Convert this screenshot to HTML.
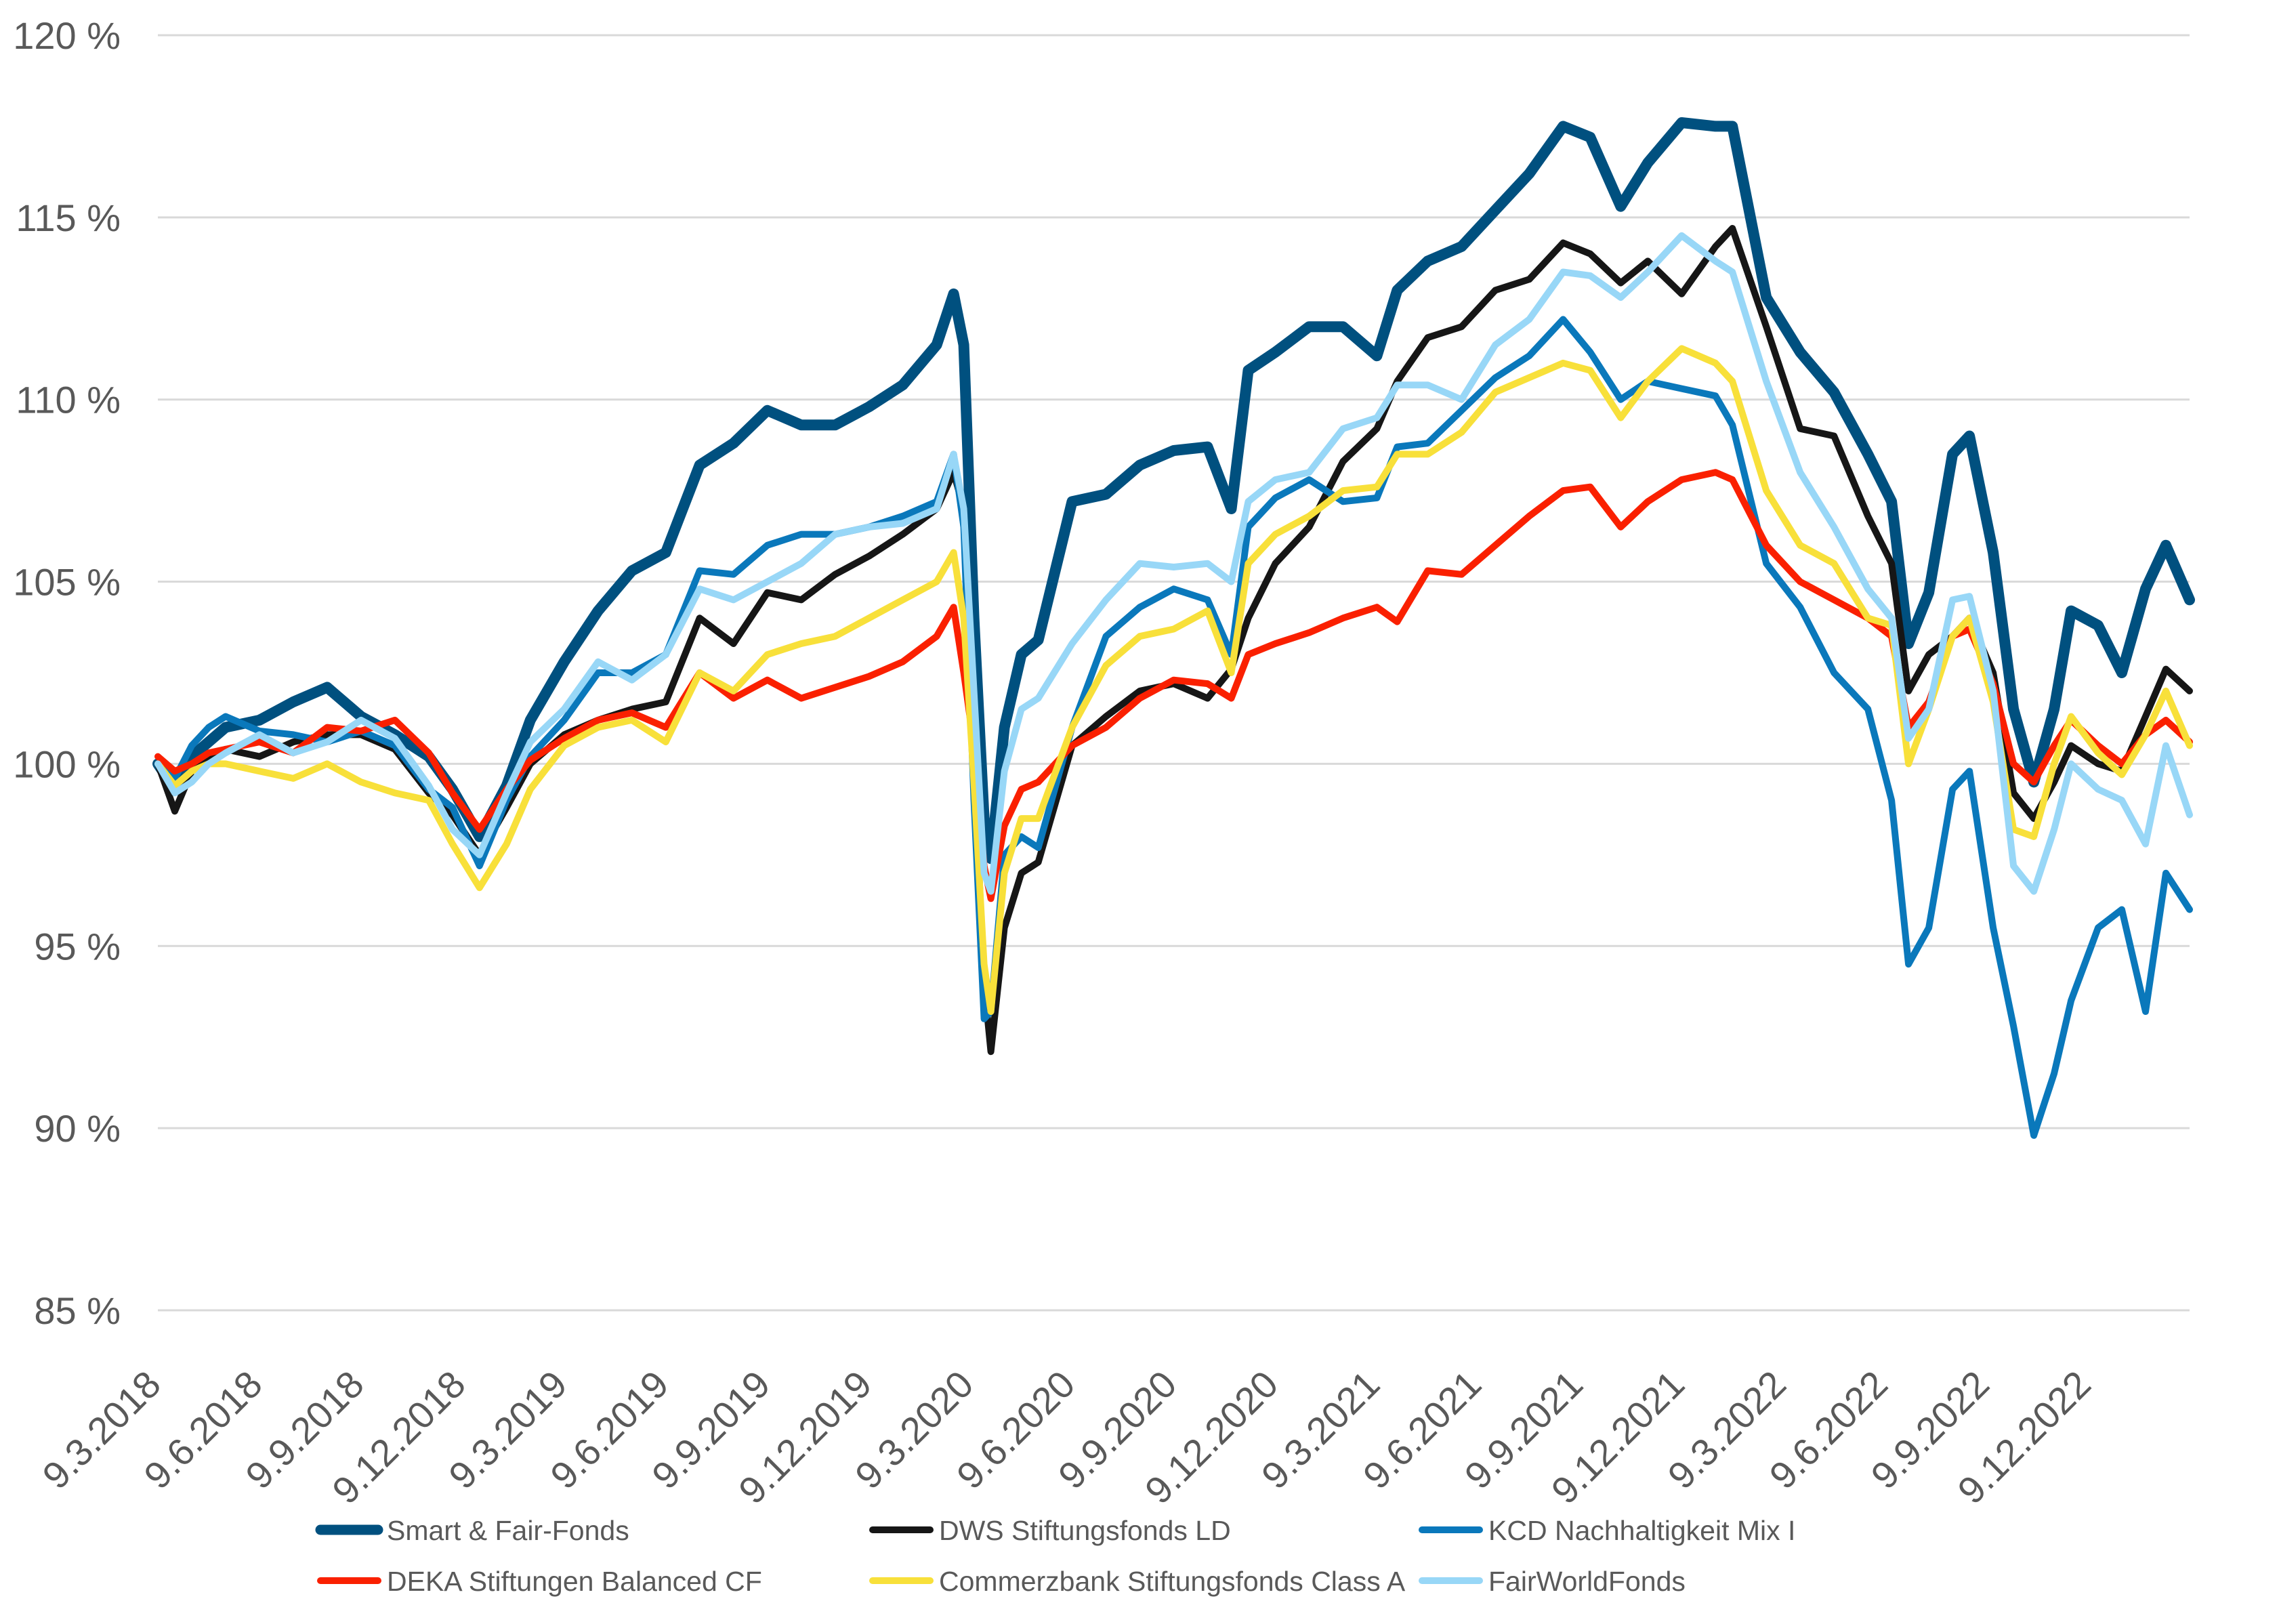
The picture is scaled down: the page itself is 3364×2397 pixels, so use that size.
<!DOCTYPE html>
<html><head><meta charset="utf-8"><style>
html,body{margin:0;padding:0;background:#fff}
svg{display:block}
text{font-family:"Liberation Sans",Arial,sans-serif;fill:#595959}
</style></head><body>
<svg id="chart" width="3364" height="2397" viewBox="0 0 3364 2397" xmlns="http://www.w3.org/2000/svg">
<g id="grid"></g>
<g id="yaxis"></g>
<g id="xaxis"></g>
<g id="series"></g>
<g id="legend"></g>
</svg>
<script>
const monthsSinceStart = [0,0.5,1,1.5,2,3,4,5,6,7,8,8.7,9.5,10.3,11,12,13,14,15,16,17,18,19,20,21,22,23,23.5,23.8,24.1,24.4,24.6,25,25.5,26,27,28,29,30,31,31.7,32.2,33,34,35,36,36.6,37.5,38.5,39.5,40.5,41.5,42.3,43.2,44,45,46,46.5,47.5,48.5,49.5,50.5,51.2,51.7,52.3,53,53.5,54.2,54.8,55.4,56,56.5,57.3,58,58.7,59.3,60];
const smartFair = [100,99.3,100.2,100.6,101,101.2,101.7,102.1,101.3,100.8,100.2,99.3,98,99.4,101.2,102.8,104.2,105.3,105.8,108.2,108.8,109.7,109.3,109.3,109.8,110.4,111.5,112.9,111.5,104,98.5,97.4,101,103,103.4,107.2,107.4,108.2,108.6,108.7,107,110.8,111.3,112,112,111.2,113,113.8,114.2,115.2,116.2,117.5,117.2,115.3,116.5,117.6,117.5,117.5,112.8,111.3,110.2,108.5,107.2,103.3,104.7,108.5,109,105.8,101.5,99.5,101.5,104.2,103.8,102.5,104.8,106,104.5];
const dws = [100,98.7,99.8,100.2,100.4,100.2,100.6,100.8,100.8,100.4,99.2,98.6,97.5,98.8,100,100.8,101.2,101.5,101.7,104,103.3,104.7,104.5,105.2,105.7,106.3,107,108,107,100,94,92.1,95.5,97,97.3,100.5,101.3,102,102.2,101.8,102.6,104,105.5,106.5,108.3,109.2,110.5,111.7,112,113,113.3,114.3,114,113.2,113.8,112.9,114.2,114.7,112,109.2,109,106.8,105.5,102,103,103.5,104,102.5,99.2,98.5,99.5,100.5,100,99.8,101.3,102.6,102];
const kcd = [100,99.6,100.5,101,101.3,100.9,100.8,100.6,100.9,100.5,99.3,98.8,97.2,99,100.2,101.2,102.5,102.5,103,105.3,105.2,106,106.3,106.3,106.5,106.8,107.2,108.5,106.5,99,93,93.2,97.5,98,97.7,101,103.5,104.3,104.8,104.5,103,106.5,107.3,107.8,107.2,107.3,108.7,108.8,109.7,110.6,111.2,112.2,111.3,110,110.5,110.3,110.1,109.3,105.5,104.3,102.5,101.5,99,94.5,95.5,99.3,99.8,95.5,92.8,89.8,91.5,93.5,95.5,96,93.2,97,96];
const deka = [100.2,99.8,100,100.3,100.4,100.6,100.3,101,100.9,101.2,100.3,99.2,98.2,99.3,100.1,100.7,101.2,101.4,101,102.5,101.8,102.3,101.8,102.1,102.4,102.8,103.5,104.3,102.5,100.5,97.2,96.3,98.3,99.3,99.5,100.5,101,101.8,102.3,102.2,101.8,103,103.3,103.6,104,104.3,103.9,105.3,105.2,106,106.8,107.5,107.6,106.5,107.2,107.8,108,107.8,106,105,104.5,104,103.5,101,101.7,103.5,103.7,102.2,100,99.5,100.5,101.2,100.5,100,100.8,101.2,100.6];
const commerzbank = [100,99.4,99.8,100,100,99.8,99.6,100,99.5,99.2,99,97.8,96.6,97.8,99.3,100.5,101,101.2,100.6,102.5,102,103,103.3,103.5,104,104.5,105,105.8,104,99.5,94.5,93.2,97,98.5,98.5,101,102.7,103.5,103.7,104.2,102.5,105.5,106.3,106.8,107.5,107.6,108.5,108.5,109.1,110.2,110.6,111,110.8,109.5,110.5,111.4,111,110.5,107.5,106,105.5,104,103.8,100,101.5,103.5,104,101.7,98.2,98,100,101.3,100.3,99.7,100.8,102,100.5];
const fairWorld = [100,99.2,99.5,100,100.3,100.8,100.3,100.6,101.2,100.7,99.4,98.2,97.5,99.2,100.6,101.5,102.8,102.3,103,104.8,104.5,105,105.5,106.3,106.5,106.6,107,108.5,107,102,97,96.5,99.8,101.5,101.8,103.3,104.5,105.5,105.4,105.5,105,107.2,107.8,108,109.2,109.5,110.4,110.4,110,111.5,112.2,113.5,113.4,112.8,113.5,114.5,113.8,113.5,110.5,108,106.5,104.8,104,100.7,101.5,104.5,104.6,102,97.2,96.5,98.2,100,99.3,99,97.8,100.5,98.6];
const yTicks = [85,90,95,100,105,110,115,120];
const yTickLabels = ["85 %","90 %","95 %","100 %","105 %","110 %","115 %","120 %"];
const xTickMonths = [0.25,3.25,6.25,9.25,12.25,15.25,18.25,21.25,24.25,27.25,30.25,33.25,36.25,39.25,42.25,45.25,48.25,51.25,54.25,57.25];
const xTickLabels = ["9.3.2018","9.6.2018","9.9.2018","9.12.2018","9.3.2019","9.6.2019","9.9.2019","9.12.2019","9.3.2020","9.6.2020","9.9.2020","9.12.2020","9.3.2021","9.6.2021","9.9.2021","9.12.2021","9.3.2022","9.6.2022","9.9.2022","9.12.2022"];
const seriesNames = ["Smart & Fair-Fonds","DWS Stiftungsfonds LD","KCD Nachhaltigkeit Mix I","DEKA Stiftungen Balanced CF","Commerzbank Stiftungsfonds Class A","FairWorldFonds"];
const seriesValues = [smartFair,dws,kcd,deka,commerzbank,fairWorld];
const seriesColors = ["#00507f","#161616","#0a78bb","#fa2000","#f8e03a","#98d7f7"];
const seriesWidths = [16,10,10,10,10,10];
const seriesKeys = ["smart-fair-fonds","dws-stiftungsfonds-ld","kcd-nachhaltigkeit-mix","deka-stiftungen-balanced","commerzbank-stiftungsfonds","fairworldfonds"];

const NS = "http://www.w3.org/2000/svg";
const X0 = 233, X1 = 3232, T1 = 60;
const Y120 = 52, PXPCT = 53.77;
function xScale(t){ return X0 + (X1 - X0) * t / T1; }
function yScale(v){ return Y120 + (120 - v) * PXPCT; }
function mk(tag, attrs, parent){ const e = document.createElementNS(NS, tag); for (const k in attrs) e.setAttribute(k, attrs[k]); parent.appendChild(e); return e; }

const grid = document.getElementById('grid');
const yaxis = document.getElementById('yaxis');
yTicks.forEach((v, i) => {
  const l = mk('line', {x1: X0, x2: X1, y1: yScale(v), y2: yScale(v), stroke: '#d9d9d9', 'stroke-width': 3}, grid);
  
  
  const t = mk('text', {x: 178, y: yScale(v) + 20, 'text-anchor': 'end', 'font-size': 56}, yaxis);
  t.textContent = yTickLabels[i];
  
  
});

const xaxis = document.getElementById('xaxis');
xTickMonths.forEach((m, i) => {
  const x = xScale(m) - 5, y = 2047;
  const t = mk('text', {x: x, y: y, 'text-anchor': 'end', 'font-size': 56, transform: 'rotate(-45 ' + x + ' ' + y + ')'}, xaxis);
  t.textContent = xTickLabels[i];
  
  
});

const sg = document.getElementById('series');
seriesValues.forEach((vals, s) => {
  const d = vals.map((v, i) => (i ? 'L' : 'M') + xScale(monthsSinceStart[i]).toFixed(1) + ' ' + yScale(v).toFixed(1)).join(' ');
  const p = mk('path', {d: d, fill: 'none', stroke: seriesColors[s], 'stroke-width': seriesWidths[s], 'stroke-linejoin': 'round', 'stroke-linecap': 'round'}, sg);
  
  
});

const lg = document.getElementById('legend');
const legX = [467, 1282, 2093], legY = [2258, 2333];
seriesNames.forEach((n, i) => {
  const cx = legX[i % 3], cy = legY[Math.floor(i / 3)];
  const g = mk('g', {}, lg);
  
  
  const l = mk('line', {x1: cx + 6, x2: cx + 91, y1: cy, y2: cy, stroke: seriesColors[i], 'stroke-width': i === 0 ? 15 : 10, 'stroke-linecap': 'round'}, g);
  
  
  const t = mk('text', {x: cx + 104, y: cy + 15, 'font-size': 41}, g);
  t.textContent = n;
  
  
});
</script>
</body></html>
